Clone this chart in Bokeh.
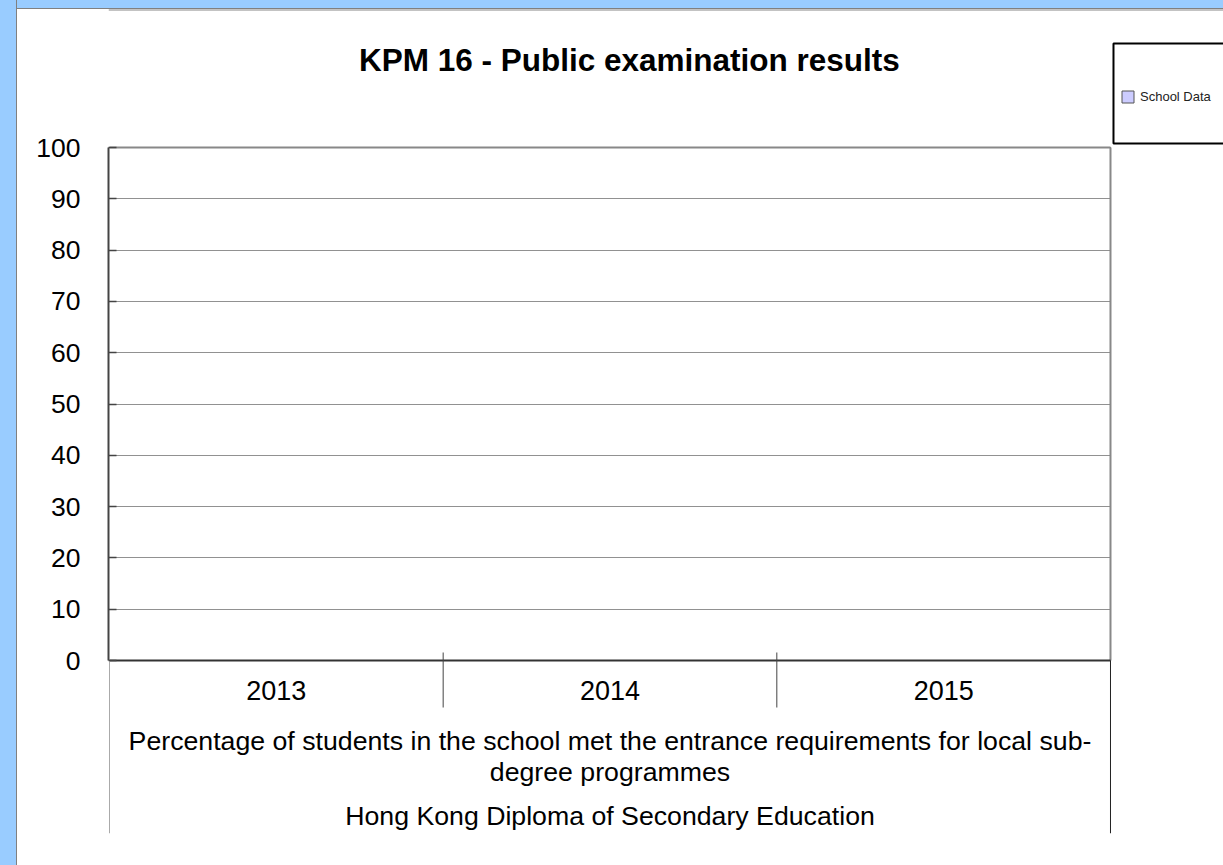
from bokeh.plotting import figure
from bokeh.models import (Range1d, FixedTicker, Legend, LegendItem, Label,
                          BoxAnnotation, ColumnDataSource, Spacer)
from bokeh.layouts import column, row
from bokeh.embed import file_html
from bokeh.resources import INLINE
from bokeh.core.properties import value

# ---------------- data ----------------
title_text = "KPM 16 - Public examination results"
years = ["2013", "2014", "2015"]
school_data = [None, None, None]          # no values reported
series_name = "School Data"
category_label = ("Percentage of students in the school met the entrance requirements for local sub-\n"
                  "degree programmes")
exam_label = "Hong Kong Diploma of Secondary Education"
y_ticks = [0, 10, 20, 30, 40, 50, 60, 70, 80, 90, 100]

FONT = value("Liberation Sans")
n = len(years)
centers = [i + 0.5 for i in range(n)]
y_lo, y_hi = -33.72, 126.9
x_lo, x_hi = -0.003, 3.3387

p = figure(width=1206, height=856, output_backend="svg", toolbar_location=None,
           x_range=Range1d(x_lo, x_hi), y_range=Range1d(y_lo, y_hi),
           x_axis_location=None)
p.min_border = 0
p.min_border_left = 91
p.min_border_right = 0
p.min_border_top = 0
p.min_border_bottom = 32
p.outline_line_color = None
p.background_fill_color = "white"
p.border_fill_color = "white"

# grid (only across the plot area)
p.xgrid.visible = False
p.ygrid.ticker = FixedTicker(ticks=y_ticks)
p.ygrid.cross_bounds = (0, n)
p.ygrid.grid_line_color = "#222222"
p.ygrid.grid_line_dash = "1 1"
p.ygrid.grid_line_width = 1

# y axis
ax = p.yaxis[0]
ax.ticker = FixedTicker(ticks=y_ticks)
ax.bounds = (0, 100)
ax.axis_line_color = "#444444"
ax.axis_line_width = 2
ax.major_tick_in = 8
ax.major_tick_out = 0
ax.major_tick_line_color = "#444444"
ax.major_tick_line_width = 1.5
ax.minor_tick_line_color = None
ax.major_label_text_font = "Liberation Sans"
ax.major_label_text_font_size = "26.5px"
ax.major_label_text_color = "black"
ax.major_label_standoff = 28

# series (empty)
src = ColumnDataSource(dict(x=centers, top=school_data))
bars = p.vbar(x="x", top="top", width=0.5, source=src,
              fill_color="#CCCCFF", line_color="#555555")

# frame borders
p.segment(x0=[0], y0=[100], x1=[n], y1=[100], line_color="#888888", line_width=2)
p.segment(x0=[n], y0=[0], x1=[n], y1=[100], line_color="#888888", line_width=2)
p.segment(x0=[0], y0=[0], x1=[n], y1=[0], line_color="#333333", line_width=2)
# category table lines
p.segment(x0=[0, n], y0=[0, 0], x1=[0, n], y1=[y_lo, y_lo],
          line_color=["#aaaaaa", "#222222"], line_width=1)
seps = list(range(1, n))
p.segment(x0=seps, y0=[1.56] * len(seps), x1=seps, y1=[-9.16] * len(seps),
          line_color="#444444", line_width=1)
# top edge of white panel
p.segment(x0=[x_lo], y0=[y_hi], x1=[x_hi], y1=[y_hi], line_color="#888888", line_width=2)

# category labels
p.text(x=centers, y=[-5.85] * n, text=years, text_font=FONT, text_font_size="27px",
       text_align="center", text_baseline="middle", text_color="black")
p.text(x=[n / 2], y=[-18.7], text=[category_label], text_font=FONT, text_font_size="26.7px",
       text_align="center", text_baseline="middle", text_color="black",
       text_line_height=1.05)
p.text(x=[n / 2], y=[-30.4], text=[exam_label], text_font=FONT, text_font_size="26.7px",
       text_align="center", text_baseline="middle", text_color="black")

# title
p.add_layout(Label(x=1.558, y=116.96, text=title_text, text_font="Liberation Sans",
                   text_font_size="31.5px", text_font_style="bold", text_align="center",
                   text_baseline="middle", text_color="black"))

# legend box
p.add_layout(BoxAnnotation(left=3.009, right=3.6, top=120.27, bottom=100.78,
                           fill_color="white", fill_alpha=1,
                           line_color="black", line_alpha=1, line_width=2))

legend = Legend(items=[LegendItem(label=series_name, renderers=[bars])],
                location=(1012, 729), border_line_color=None, background_fill_alpha=0,
                padding=4, margin=0, spacing=0, glyph_width=15, glyph_height=15,
                label_standoff=5, label_height=15, label_text_font="Liberation Sans",
                label_text_font_size="13px", label_text_color="#222222")
p.add_layout(legend)

layout = column(Spacer(height=9), row(Spacer(width=17), p))

html = file_html(layout, INLINE)
css = ("<style>body{background:"
       " linear-gradient(to right, #99ccff 16px, #808080 16px, #808080 17px, transparent 17px),"
       " linear-gradient(to bottom, #99ccff 8px, #808080 8px, #808080 9px, #ffffff 9px);}</style>")
html = html.replace("</head>", css + "</head>", 1)
open("out.html", "w").write(html)
